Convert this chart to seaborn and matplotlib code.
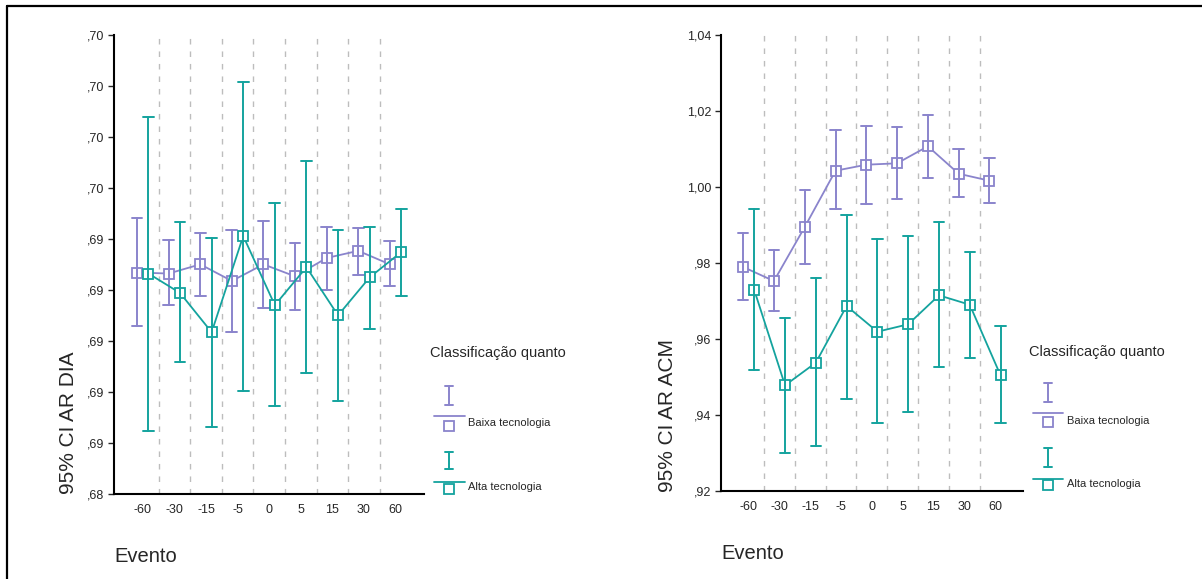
import numpy as np
import pandas as pd
import matplotlib
matplotlib.use("Agg")
import matplotlib.pyplot as plt
from matplotlib.lines import Line2D
import seaborn as sns

# ---------------- data ----------------
eventos = ["-60", "-30", "-15", "-5", "0", "5", "15", "30", "60"]
grupos = ["Baixa tecnologia", "Alta tecnologia"]

# 95% CI AR DIA
dia_baixa_media = [0.69268, 0.69264, 0.69300, 0.69235, 0.69300, 0.69253, 0.69325, 0.69353, 0.69300]
dia_baixa_inf = [0.69059, 0.69141, 0.69175, 0.69035, 0.69128, 0.69123, 0.69200, 0.69258, 0.69216]
dia_baixa_sup = [0.69482, 0.69395, 0.69424, 0.69435, 0.69471, 0.69383, 0.69446, 0.69442, 0.69390]
dia_alta_media = [0.69264, 0.69188, 0.69034, 0.69411, 0.69140, 0.69289, 0.69100, 0.69249, 0.69348]
dia_alta_inf = [0.68646, 0.68918, 0.68663, 0.68804, 0.68745, 0.68876, 0.68765, 0.69046, 0.69175]
dia_alta_sup = [0.69877, 0.69465, 0.69405, 0.70013, 0.69541, 0.69706, 0.69434, 0.69446, 0.69518]

# 95% CI AR ACM
acm_baixa_media = [0.97891, 0.97522, 0.98943, 1.00423, 1.00581, 1.00618, 1.01065, 1.00344, 1.00160]
acm_baixa_inf = [0.97023, 0.96741, 0.97962, 0.99416, 0.99540, 0.99687, 1.00239, 0.99724, 0.99574]
acm_baixa_sup = [0.98793, 0.98346, 0.99916, 1.01494, 1.01607, 1.01573, 1.01880, 1.00986, 1.00757]
acm_alta_media = [0.97286, 0.94779, 0.95374, 0.96865, 0.96189, 0.96384, 0.97146, 0.96899, 0.95042]
acm_alta_inf = [0.95174, 0.93007, 0.93183, 0.94427, 0.93796, 0.94077, 0.95253, 0.95489, 0.93796]
acm_alta_sup = [0.99408, 0.96541, 0.97609, 0.99258, 0.98627, 0.98698, 0.99066, 0.98277, 0.96347]

dia_yticks = [0.684, 0.686, 0.688, 0.690, 0.692, 0.694, 0.696, 0.698, 0.700, 0.702]
dia_yticklabels = [",68", ",69", ",69", ",69", ",69", ",69", ",70", ",70", ",70", ",70"]
acm_yticks = [0.92, 0.94, 0.96, 0.98, 1.00, 1.02, 1.04]
acm_yticklabels = [",92", ",94", ",96", ",98", "1,00", "1,02", "1,04"]

cor_baixa = "#8A84CC"
cor_alta = "#14A39E"
cores = {grupos[0]: cor_baixa, grupos[1]: cor_alta}


def long_df(baixa, alta):
    rows = []
    for g, (lo, me, hi) in zip(grupos, [baixa, alta]):
        for ev, a, b, c in zip(eventos, lo, me, hi):
            for v in (a, b, c):
                rows.append({"Evento": ev, "grupo": g, "valor": v})
    return pd.DataFrame(rows)


df_dia = long_df((dia_baixa_inf, dia_baixa_media, dia_baixa_sup),
                 (dia_alta_inf, dia_alta_media, dia_alta_sup))
df_acm = long_df((acm_baixa_inf, acm_baixa_media, acm_baixa_sup),
                 (acm_alta_inf, acm_alta_media, acm_alta_sup))

# ---------------- figure ----------------
sns.set_style("ticks")
plt.rcParams["font.family"] = ["Liberation Sans", "DejaVu Sans"]

W, H = 1202, 579
fig = plt.figure(figsize=(W / 100, H / 100), dpi=100)


def fx(x):
    return x / W


def fy(y):
    return 1 - y / H


def make_axes(x0, x1, y0, y1):
    return fig.add_axes([fx(x0), fy(y1), fx(x1) - fx(x0), fy(y0) - fy(y1)])


ax1 = make_axes(114.3, 424, 34.7, 494)
ax2 = make_axes(721, 1022.7, 34.7, 491)


def draw(ax, df, yticks, ylabels):
    for i in range(len(eventos) - 1):
        ax.axvline(i + 0.5, color="#BDBDBD", lw=1.0, ls=(0, (4, 5)), zorder=1)
    sns.pointplot(data=df, x="Evento", y="valor", hue="grupo",
                  order=eventos, hue_order=grupos, palette=cores,
                  estimator=np.median,
                  errorbar=lambda v: (v.min(), v.max()),
                  dodge=0.36, markers="s", linestyles="-",
                  capsize=0.34, err_kws={"linewidth": 1.4},
                  linewidth=1.3, markersize=7.6, markeredgewidth=1.3,
                  markerfacecolor="white", zorder=3,
                  legend=False, ax=ax)
    ax.set_xlim(-0.9, 8.9)
    ax.set_ylim(yticks[0], yticks[-1])
    ax.set_yticks(yticks)
    ax.set_yticklabels(ylabels)
    ax.set_xlabel("")
    ax.set_ylabel("")
    sns.despine(ax=ax)
    for s in ("left", "bottom"):
        ax.spines[s].set_linewidth(1.5)
        ax.spines[s].set_color("black")
    ax.tick_params(axis="y", length=4, width=1, pad=3, labelsize=9)
    ax.tick_params(axis="x", length=0, pad=7, labelsize=9)


draw(ax1, df_dia, dia_yticks, dia_yticklabels)
draw(ax2, df_acm, acm_yticks, acm_yticklabels)

# axis titles
fig.text(fx(68), fy(423), "95% CI AR DIA", rotation=90, ha="center", va="center", fontsize=15)
fig.text(fx(668), fy(415), "95% CI AR ACM", rotation=90, ha="center", va="center", fontsize=15)
fig.text(fx(114), fy(556.7), "Evento", ha="left", va="center", fontsize=14.5)
fig.text(fx(721.7), fy(553.3), "Evento", ha="left", va="center", fontsize=14.5)


# legends
def legend(x_title, y_title, x_icon, x_line0, x_line1, x_lab, entries):
    fig.text(fx(x_title), fy(y_title), "Classificação quanto", ha="left", va="center", fontsize=10.5)
    for (g, y_e0, y_e1, y_line, y_sq, y_lab) in entries:
        c = cores[g]
        fig.add_artist(Line2D([fx(x_icon)] * 2, [fy(y_e0), fy(y_e1)], color=c, lw=1.4))
        for yy in (y_e0, y_e1):
            fig.add_artist(Line2D([fx(x_icon - 4), fx(x_icon + 4)], [fy(yy)] * 2, color=c, lw=1.4))
        fig.add_artist(Line2D([fx(x_line0), fx(x_line1)], [fy(y_line)] * 2, color=c, lw=1.3))
        fig.add_artist(Line2D([fx(x_icon)], [fy(y_sq)], marker="s", markersize=7.6,
                              markerfacecolor="white", markeredgecolor=c, markeredgewidth=1.3, ls="none"))
        fig.text(fx(x_lab), fy(y_lab), g, ha="left", va="center", fontsize=8)


legend(430, 353, 449.3, 434, 465, 468,
       [(grupos[0], 386, 405, 415.7, 425.5, 422.7),
        (grupos[1], 451.7, 469.3, 482, 488.5, 487.3)])
legend(1029, 351.7, 1047.7, 1032.7, 1063.3, 1066.7,
       [(grupos[0], 383, 401.7, 413.3, 422.3, 420.7),
        (grupos[1], 448, 466.7, 479, 485.3, 484.3)])

# outer frame (top and left)
fig.add_artist(Line2D([fx(7), fx(7)], [fy(5.5), 0], color="black", lw=1.6))
fig.add_artist(Line2D([fx(7), 1], [fy(5.5), fy(5.5)], color="black", lw=1.6))

fig.savefig("out.png", dpi=100)
